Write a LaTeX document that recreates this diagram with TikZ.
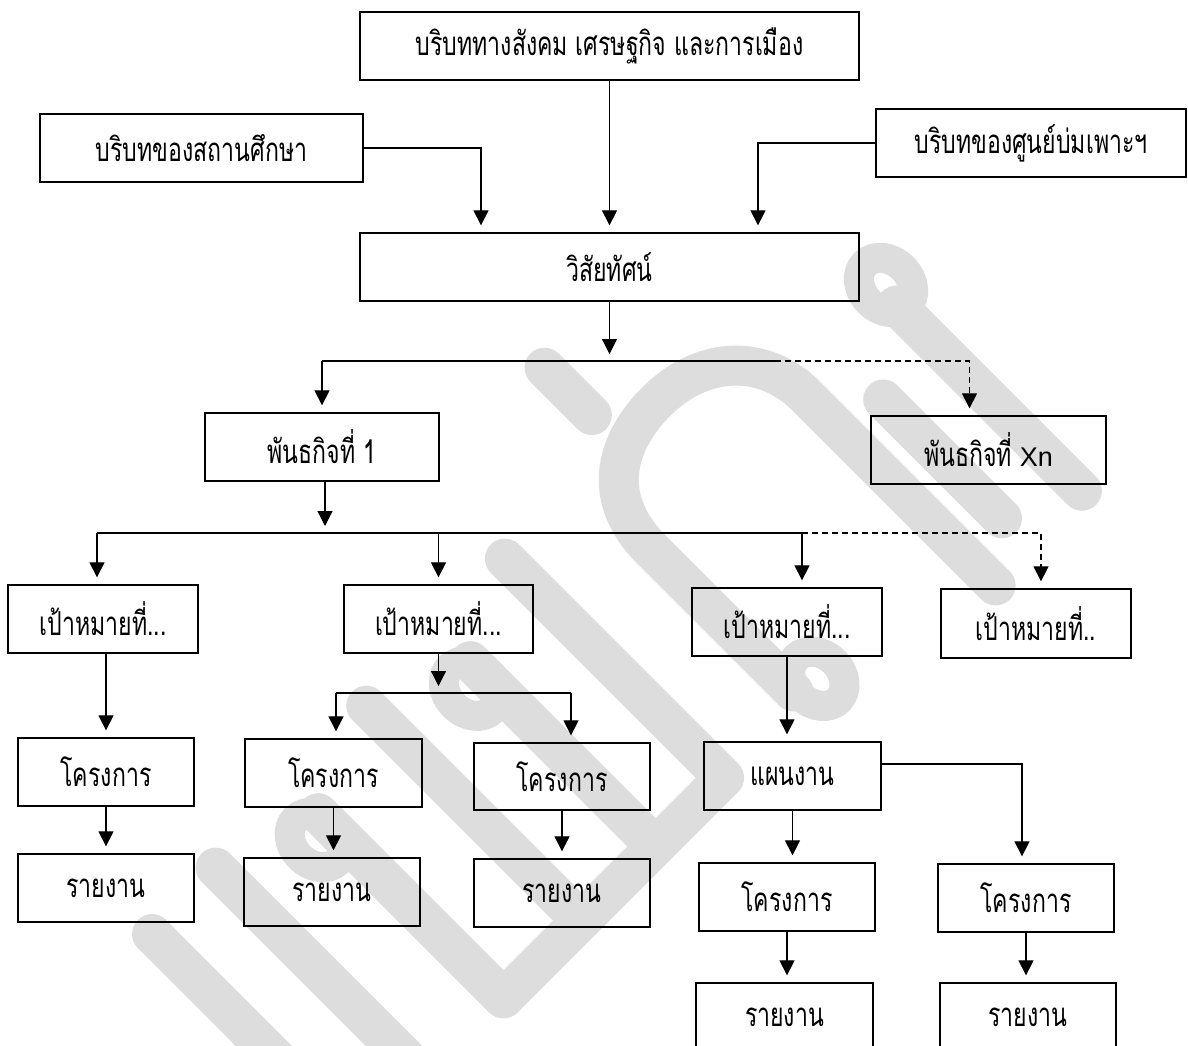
\documentclass[tikz,border=0pt]{standalone}
\usepackage{fontspec}
\usetikzlibrary{arrows.meta,calc}
\newfontfamily\thaifont[Script=Thai,FakeStretch=0.7]{Loma}
\newfontfamily\latfont{Liberation Sans}
\definecolor{wmgray}{RGB}{221,221,221}
\tikzset{
  box/.style={draw=black, line width=1.3pt, inner sep=0pt, anchor=center,
    font=\thaifont\fontsize{33}{38}\selectfont, text=black},
  bw/.style={minimum width=#1pt},
  bh/.style={minimum height=#1pt},
  conn/.style={line width=1.2pt, draw=black},
  arr/.style={conn, -{Triangle[width=15pt,length=15pt]}, shorten >=7pt},
  dsh/.style={dash pattern=on 6pt off 4pt},
  wmk/.style={draw=wmgray, line width=40pt, line cap=round, line join=round},
  wring/.style={draw=wmgray, line width=30pt},
}
\begin{document}
\begin{tikzpicture}[x=1pt,y=-1pt]
\clip (0,0) rectangle (1188,1046);
\fill[white] (0,0) rectangle (1188,1046);

% watermark (rotated text shapes), u along reading direction, w downward
\begin{scope}[x={(0.7071pt,0.7071pt)}, y={(0.7071pt,-0.7071pt)}]
  \draw[wmk] (-553,768) -- (-553,1130);
  \draw[wmk] (-461,766) -- (-461,1130);
  \draw[wmk] (-350,800) -- (-350,1062) -- (-38,1062) -- (-38,752);
  \draw[wmk] (-240,758) -- (-240,1062);
  \draw[wmk] (-135,800) -- (-135,1062);
  \draw[wring] (-370,818) ellipse [x radius=24, y radius=30];
  \draw[wring] (-154,820) ellipse [x radius=24, y radius=30];
  \draw[wmk] (72,1050) -- (72,850) .. controls (72,770) and (130,748) .. (180,748)
     .. controls (245,748) and (290,790) .. (290,850) -- (290,1118);
  \draw[wring] (98,1058) ellipse [x radius=24, y radius=30];
  \draw[wmk] (125,645) -- (125,712);
  \draw[wmk] (342,907) -- (342,1075);
  \draw[wmk] (418,850) -- (418,1112);
  \draw[wring] (425,828) ellipse [x radius=24, y radius=30];
\end{scope}

% boxes
\node[box,bw=499,bh=68] (T) at (609.5,46) {บริบททางสังคม เศรษฐกิจ และการเมือง};
\node[box,bw=323,bh=68] (L) at (201.5,148) {บริบทของสถานศึกษา};
\node[box,bw=310,bh=68] (R) at (1031,143) {บริบทของศูนย์บ่มเพาะฯ};
\node[box,bw=499,bh=68] (V) at (609.5,267) {วิสัยทัศน์};
\node[box,bw=234,bh=68] (M1) at (322,447) {พันธกิจที่ 1};
\node[box,bw=235,bh=68] (Mn) at (988.5,450) {พันธกิจที่ {\latfont\fontsize{27}{30}\selectfont Xn}};
\node[box,bw=190,bh=68] (G1) at (103,619) {เป้าหมายที่...};
\node[box,bw=189,bh=68] (G2) at (438.5,619) {เป้าหมายที่...};
\node[box,bw=190,bh=68] (G3) at (787,622) {เป้าหมายที่...};
\node[box,bw=190,bh=69] (G4) at (1036,623.5) {เป้าหมายที่..};
\node[box,bw=176,bh=68] (P1) at (106,772) {โครงการ};
\node[box,bw=176,bh=68] (R1) at (106,888) {รายงาน};
\node[box,bw=177,bh=68] (P2a) at (333.5,773) {โครงการ};
\node[box,bw=176,bh=68] (R2a) at (332,892) {รายงาน};
\node[box,bw=176,bh=67] (P2b) at (562,776.5) {โครงการ};
\node[box,bw=176,bh=68] (R2b) at (562,893) {รายงาน};
\node[box,bw=177,bh=68] (PL) at (792.5,776) {แผนงาน};
\node[box,bw=176,bh=68] (P3a) at (787,897) {โครงการ};
\node[box,bw=176,bh=68] (P3b) at (1026,898) {โครงการ};
\node[box,bw=177,bh=68] (R3a) at (784.5,1017) {รายงาน};
\node[box,bw=176,bh=68] (R3b) at (1028,1017) {รายงาน};

% helper coordinates
\coordinate (b1) at (609.5,361);
\coordinate (b1d) at (775,361);
\coordinate (b2) at (325,533);
\coordinate (b2d) at (802,533);
\coordinate (b3) at (438.5,693);
\coordinate (vL) at ([xshift=-128.5]V.north);
\coordinate (vR) at ([xshift=148.5]V.north);
\coordinate (mnT) at ([xshift=-19]Mn.north);
\coordinate (g1T) at ([xshift=-6]G1.north);
\coordinate (g4T) at ([xshift=5]G4.north);
\coordinate (p2aT) at ([xshift=2.5]P2a.north);
\coordinate (p2bT) at ([xshift=9]P2b.north);
\coordinate (plE) at ([yshift=12]PL.east);
\coordinate (p3bT) at ([xshift=-4]P3b.north);

% context arrows
\draw[arr] (T.south) -- (V.north);
\draw[arr] (L.east) -| (vL);
\draw[arr] (R.west) -| (vR);

% vision to missions
\draw[arr] (V.south) -- (b1);
\draw[conn] (b1 -| M1.north) -- (b1d);
\draw[arr] (b1 -| M1.north) -- (M1.north);
\draw[arr,dsh] (b1d) -| (mnT);

% mission 1 to goals
\draw[arr] (M1.south -| b2) -- (b2);
\draw[conn] (b2 -| g1T) -- (b2d);
\draw[arr] (b2 -| g1T) -- (g1T);
\draw[arr] (b2 -| G2.north) -- (G2.north);
\draw[arr] (b2d) -- (b2d |- G3.north);
\draw[arr,dsh] (b2d) -| (g4T);

% goal 1
\draw[arr] (P1.north |- G1.south) -- (P1.north);
\draw[arr] (P1.south) -- (R1.north);

% goal 2
\draw[arr] (G2.south) -- (b3);
\draw[conn] (b3 -| p2aT) -- (b3 -| p2bT);
\draw[arr] (b3 -| p2aT) -- (p2aT);
\draw[arr] (b3 -| p2bT) -- (p2bT);
\draw[arr] (P2a.south) -- (R2a.north -| P2a.south);
\draw[arr] (P2b.south) -- (R2b.north -| P2b.south);

% goal 3
\draw[arr] (G3.south) -- (PL.north -| G3.south);
\draw[arr] (PL.south) -- (P3a.north -| PL.south);
\draw[arr] (plE) -| (p3bT);
\draw[arr] (P3a.south) -- (R3a.north -| P3a.south);
\draw[arr] (P3b.south) -- (R3b.north -| P3b.south);
\end{tikzpicture}
\end{document}
